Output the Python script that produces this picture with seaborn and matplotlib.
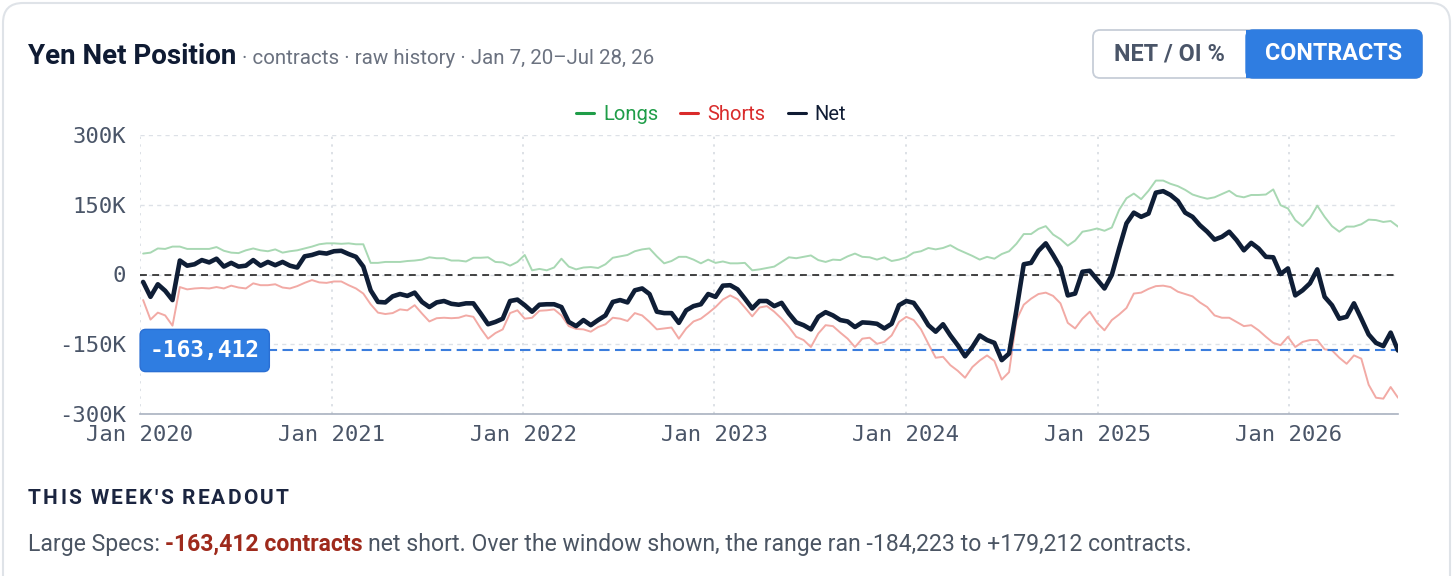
#%% Yen Net Position - CFTC large specs, contracts view

import pandas as pd
import matplotlib
matplotlib.use("Agg")
import matplotlib.pyplot as plt
import matplotlib.dates as mdates
import matplotlib.patches as mpatches
from matplotlib.lines import Line2D
from matplotlib.ticker import FuncFormatter
from matplotlib.transforms import IdentityTransform
import seaborn as sns

sns.set_theme(style = "white")
plt.rcParams["font.family"] = ["Roboto", "DejaVu Sans"]

#%% Data (thousands of contracts, read every 2 weeks from Jan 7, 2020 to Jul 28, 2026)

net_k = [-16, -48, -21, -35, -55, 30, 19, 22, 31, 26, 34, 17, 25, 17, 19, 31, 19, 27,
         20, 27, 19, 15, 39, 42, 47, 45, 50, 51, 44, 38, 17, -34, -59, -60, -47, -42,
         -46, -39, -59, -70, -60, -57, -63, -65, -62, -62, -84, -107, -102, -95, -57, -54,
         -66, -80, -65, -64, -64, -70, -102, -111, -98, -109, -98, -88, -59, -55, -60, -34,
         -30, -42, -80, -83, -83, -104, -77, -68, -64, -42, -48,
         -24, -23, -32, -52, -73, -57, -57, -68, -61, -84, -103, -109, -118, -91, -81, -88,
         -98, -101, -113, -103, -104, -106, -116, -106, -66, -57, -61, -83, -109, -123, -107,
         -131, -152, -176, -156, -131, -141, -147, -184.2, -170, -77, 22, 25, 51,
         67, 42, 15, -45, -41, 6, 8, -11, -30, -1, 56, 110, 133, 124, 131, 176, 179.2, 171,
         158, 133, 124, 106, 92, 75, 81, 92, 74, 52, 68, 56, 38, 37, 1, 13, -45, -34, -19,
         11, -48, -66, -95, -91, -62, -95, -129, -147, -154, -125, -163.412]

longs_k = [45, 47, 56, 55, 60, 60, 55, 55, 55, 55, 59, 51, 47, 46, 52, 56, 52, 50,
           54, 47, 50, 52, 56, 60, 65, 67, 67, 66, 67, 65, 65, 25, 25, 27, 27, 27,
           29, 30, 32, 37, 35, 35, 30, 30, 28, 36, 36, 37, 27, 26, 19, 27, 42, 9, 12, 9,
           15, 34, 17, 11, 15, 16, 14, 22, 36, 39, 42, 50, 54, 56, 39, 24, 29, 38, 38, 32,
           24, 32, 25,
           28, 24, 24, 25, 9, 11, 14, 17, 27, 37, 35, 38, 41, 31, 27, 32, 31, 39, 45, 38,
           37, 32, 37, 29, 32, 37, 47, 50, 57, 54, 57, 63, 54, 47, 40, 32, 38, 34, 44, 50,
           66, 87, 87, 98,
           104, 86, 76, 62, 73, 92, 95, 99, 94, 101, 139, 164, 174, 162, 180, 202, 202, 195,
           190, 182, 172, 167, 163, 166, 173, 180, 169, 166, 171, 171, 172, 183, 149, 142,
           117, 104, 121, 148, 124, 104, 92, 103, 103, 108, 118, 117, 113, 115, 103]

shorts_k = [-55, -97, -82, -88, -110, -27, -32, -30, -29, -30, -27, -30, -24, -28, -30, -19,
            -23, -23, -21, -28, -30, -25, -18, -12, -17, -18, -15, -15, -23, -30, -41, -64,
            -82, -85, -83, -75,
            -77, -66, -84, -101, -94, -93, -94, -93, -88, -91, -116, -138, -126, -118, -83,
            -77, -95, -93, -78, -77, -75, -88, -111, -117, -118, -123, -113, -107, -93, -95,
            -100, -83, -88, -102, -118, -116, -114, -138, -116, -101, -95, -83, -70,
            -54, -45, -53, -71, -90, -71, -68, -80, -95, -113, -134, -141, -156, -127, -109,
            -111, -125, -138, -156, -138, -136, -149, -145, -131, -102, -91, -98, -118, -149,
            -179, -177, -195, -207, -222, -199, -185, -174, -186, -226, -210, -98, -65, -52, -42,
            -39, -46, -62, -104, -116, -95, -80, -104, -120, -98, -86, -72, -41, -39, -31, -25,
            -24, -27, -37, -42, -47, -60, -70, -88, -93, -93, -102, -111, -109, -120, -134,
            -147, -152, -134, -156, -145, -141, -141, -161, -163, -179, -192, -174, -181, -237,
            -265, -267, -242, -265]

latest_net = -163412
y_ticks = [-300, -150, 0, 150, 300]
legend_labels = ["Longs", "Shorts", "Net"]
legend_colors = ["#1f9d48", "#d92b2b", "#0f1b33"]

dates = pd.date_range("2020-01-07", "2026-07-28", freq = "14D")
df = pd.DataFrame({"date": dates, "longs": longs_k, "shorts": shorts_k, "net": net_k})

#%% Figure and card

W, H = 1456, 576
fig = plt.figure(figsize = (W / 100, H / 100), dpi = 100)

def fx(x):
    return x / W

def fy(y):
    return 1 - y / H

card = mpatches.FancyBboxPatch((3, -40), W - 9, H - 3 + 40,
                               boxstyle = "round,pad=0,rounding_size=20",
                               transform = IdentityTransform(),
                               fc = "white", ec = "#dfe3e8", lw = 1.5, zorder = -10)
fig.add_artist(card)

# toggle buttons
btn_out = mpatches.FancyBboxPatch((1093, H - 78), 329, 48,
                                  boxstyle = "round,pad=0,rounding_size=7",
                                  transform = IdentityTransform(),
                                  fc = "white", ec = "#c7ced8", lw = 1.3, zorder = 1)
btn_on = mpatches.FancyBboxPatch((1246, H - 78), 176, 48,
                                 boxstyle = "round,pad=0,rounding_size=7",
                                 transform = IdentityTransform(),
                                 fc = "#2f7de1", ec = "#2f7de1", lw = 1, zorder = 2)
btn_sq = mpatches.Rectangle((1246, H - 78), 14, 48, transform = IdentityTransform(),
                            fc = "#2f7de1", ec = "none", zorder = 2)
for p in (btn_out, btn_on, btn_sq):
    fig.add_artist(p)

fig.text(fx(1169.5), fy(54), "NET / OI %", ha = "center", va = "center",
         fontsize = 16.8, fontweight = "bold", color = "#4a5568", zorder = 3)
fig.text(fx(1334), fy(54), "CONTRACTS", ha = "center", va = "center",
         fontsize = 16.8, fontweight = "bold", color = "white", zorder = 3)

#%% Main axes

ax = fig.add_axes([fx(140), fy(414), (1398 - 140) / W, (414 - 135) / H])
ax.set_facecolor("none")

sns.lineplot(data = df, x = "date", y = "longs", color = "#a8d8b3", lw = 1.4, ax = ax)
sns.lineplot(data = df, x = "date", y = "shorts", color = "#f2aaa5", lw = 1.4, ax = ax)
ax.axhline(0, color = "#111111", lw = 1.1, ls = (0, (4.5, 3.5)), zorder = 3)
ax.axhline(latest_net / 1000, color = "#3b7ddd", lw = 1.5, ls = (0, (5, 2.6)), zorder = 3)
sns.lineplot(data = df, x = "date", y = "net", color = "#0f1e36", lw = 3.3, ax = ax, zorder = 4)

x0 = pd.Timestamp("2020-01-01")
ax.set_xlim(x0, pd.Timestamp("2026-07-28"))
ax.set_ylim(-300, 300)
ax.set_yticks(y_ticks)
ax.yaxis.set_major_formatter(FuncFormatter(lambda v, p: "0" if v == 0 else f"{v:.0f}K"))

ax.xaxis.set_major_locator(mdates.YearLocator())
ax.xaxis.set_major_formatter(mdates.DateFormatter("Jan %Y"))
ax.xaxis.set_minor_locator(mdates.MonthLocator(bymonth = 7))

ax.grid(axis = "y", color = "#dde1e7", lw = 1, ls = (0, (3, 3)))
ax.grid(axis = "x", which = "major", color = "#d3d8df", lw = 1.1, ls = (0, (1.5, 3.5)))

for s in ["top", "right", "left"]:
    ax.spines[s].set_visible(False)
ax.spines["bottom"].set_color("#a9b2c0")
ax.spines["bottom"].set_linewidth(1.2)

mono = "DejaVu Sans Mono"
ax.tick_params(axis = "y", length = 0, pad = 10, labelsize = 16, labelcolor = "#4a5568")
ax.tick_params(axis = "x", which = "major", length = 0, pad = 8, labelsize = 16,
               labelcolor = "#4a5568")
ax.tick_params(axis = "x", which = "minor", length = 11, width = 1.3, color = "#4a5568",
               direction = "inout")
for lab in ax.get_xticklabels() + ax.get_yticklabels():
    lab.set_family(mono)
ax.set_xlabel("")
ax.set_ylabel("")

# latest value tag
ax.annotate(f"{latest_net:,}", xy = (x0, latest_net / 1000),
            xytext = (7, 0), textcoords = "offset points", ha = "left", va = "center",
            family = mono, fontweight = "bold", fontsize = 16.5, color = "white", zorder = 6,
            annotation_clip = False,
            bbox = dict(boxstyle = "round,pad=0.42,rounding_size=0.25", fc = "#2f7de1",
                        ec = "#2a6fd4", lw = 1))

# legend
handles = [Line2D([], [], color = c, lw = 2.2) for c in legend_colors]
fig.legend(handles, legend_labels, loc = "center", bbox_to_anchor = (fx(711), fy(115)),
           ncol = 3, frameon = False, handlelength = 0.9, handletextpad = 0.45,
           columnspacing = 1.1, fontsize = 14.5, labelcolor = legend_colors)

#%% Titles and readout text

renderer = fig.canvas.get_renderer()

def after(t, gap_px):
    bb = t.get_window_extent(renderer)
    return (bb.x1 + gap_px) / W

title = fig.text(fx(28), fy(64), "Yen Net Position", fontsize = 20, fontweight = "bold",
                 color = "#0f1b33", va = "baseline")
fig.text(after(title, 6), fy(64), "· contracts · raw history · Jan 7, 20–Jul 28, 26",
         fontsize = 14.8, color = "#6b7280", va = "baseline")

# spaced-out heading, one letter at a time
x_px = 28
for ch in "THIS WEEK'S READOUT":
    t = fig.text(fx(x_px), fy(504), ch, fontsize = 15, fontweight = "bold",
                 color = "#1b2540", va = "baseline")
    if ch == " ":
        x_px += 7
    else:
        x_px = t.get_window_extent(renderer).x1 + 2.2

t1 = fig.text(fx(28), fy(551), "Large Specs:", fontsize = 16.6, color = "#4b5563",
              va = "baseline")
t2 = fig.text(after(t1, 5), fy(551), "-163,412 contracts", fontsize = 16.6,
              fontweight = "bold", color = "#9e2a1c", va = "baseline")
fig.text(after(t2, 5), fy(551),
         "net short. Over the window shown, the range ran -184,223 to +179,212 contracts.",
         fontsize = 16.6, color = "#4b5563", va = "baseline")

fig.savefig("out.png", dpi = 100)
